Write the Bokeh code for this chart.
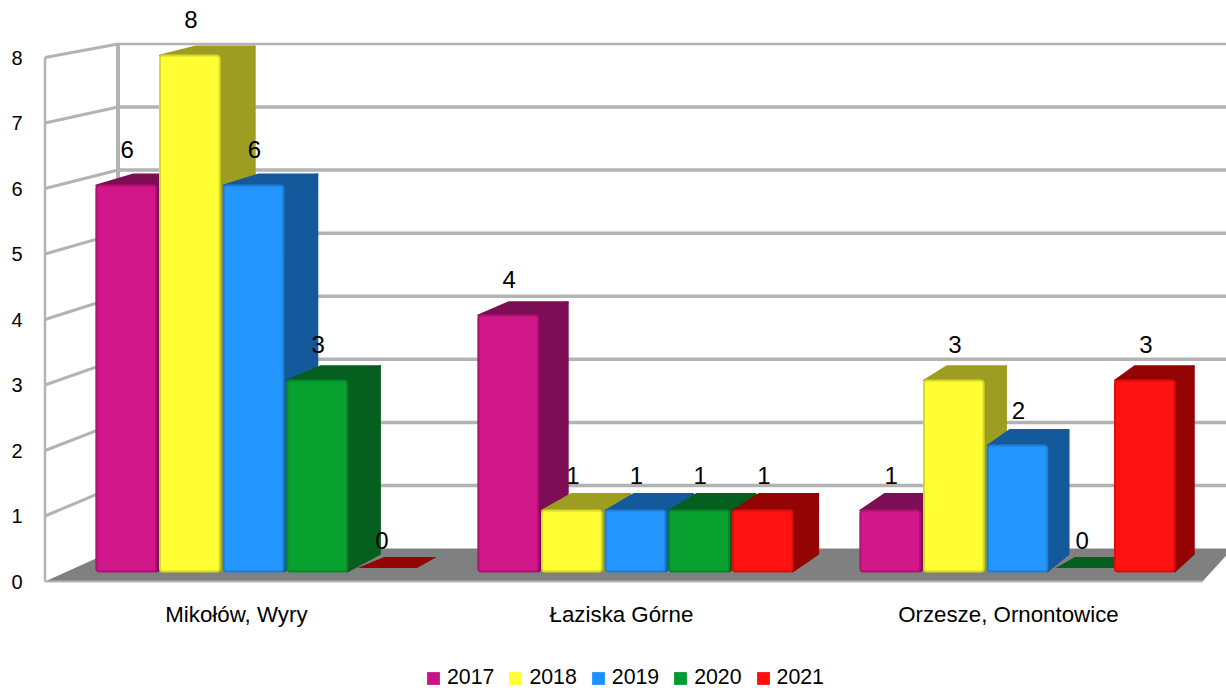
from bokeh.plotting import figure
from bokeh.embed import file_html
from bokeh.resources import INLINE
from bokeh.models import Legend, LegendItem, FixedTicker, ColumnDataSource
from bokeh.core.properties import value

categories = ["Mikołów, Wyry", "Łaziska Górne", "Orzesze, Ornontowice"]
label_positions = [0.45, 1.458, 2.471]
years = ["2017", "2018", "2019", "2020", "2021"]
v2017 = [6, 4, 1]
v2018 = [8, 1, 3]
v2019 = [6, 1, 2]
v2020 = [3, 1, 0]
v2021 = [0, 1, 3]
series = [v2017, v2018, v2019, v2020, v2021]
front_colors = ["#d2178a", "#ffff33", "#2396ff", "#08a130", "#ff1212"]
edge_colors = ["#b01274", "#d8d828", "#1c7fd8", "#06882c", "#d80f0f"]
side_colors = ["#7d0d55", "#9d9d21", "#14599c", "#055f1e", "#940404"]
legend_colors = ["#c71585", "#ffff33", "#1e90ff", "#009933", "#ff0d0d"]
grid_color = "#b3b3b3"
floor_color = "#808080"

W, H = 1226, 688
FRAME_L = 38              # frame's left edge on the page
AX_L, AX_B = 44.5, 581    # page position of the front-left corner
PX_X, PX_Y = 382.0, 65.5  # pixels per category / per value unit
X0 = 64.0                 # page x of category 0
x_start, x_end = (FRAME_L - X0) / PX_X, (W - X0) / PX_X
y_start, y_end = (AX_B - H) / PX_Y, AX_B / PX_Y

p = figure(width=W, height=H, output_backend="svg", toolbar_location=None,
           x_range=(x_start, x_end), y_range=(y_start, y_end),
           min_border_left=FRAME_L, min_border_right=0, min_border_top=0,
           min_border_bottom=0, outline_line_color=None,
           background_fill_color="white", border_fill_color="white",
           margin=0)
p.grid.visible = False
p.xaxis.visible = False

# ---- perspective: front plane of the box to its back wall
WALL_S = 0.963
WALL_VX, WALL_VY = (2018 - X0) / PX_X, (AX_B + 310) / PX_Y
def wall(x, v):
    return WALL_VX + WALL_S * (x - WALL_VX), WALL_VY + WALL_S * (v - WALL_VY)

BAR_K, BAR_Y0, BAR_BASE = 65 / PX_Y, 6 / PX_Y, 10 / PX_Y   # bars stand a little behind the front edge
BAR_S = 0.9833
BAR_VX, BAR_VY = (2316 - X0) / PX_X, (AX_B + 480) / PX_Y
def bar_y(v):
    return BAR_Y0 + BAR_K * v if v > 0 else BAR_BASE
def bar_back(x, y, t=1.0):
    s = 1 - (1 - BAR_S) * t
    return BAR_VX + s * (x - BAR_VX), BAR_VY + s * (y - BAR_VY)

# ---- floor
x_left, x_right = (AX_L - X0) / PX_X, 3.0 - 8 / PX_X
bl, br = wall(x_left, 0), wall(x_right, 0)
p.patch([x_left, x_right, br[0], bl[0]], [0, 0, br[1], bl[1]],
        fill_color=floor_color, line_color=None)
p.line([x_left, x_right], [0, 0], line_color=grid_color, line_width=2)

# ---- walls and grid lines
ticks = list(range(0, 9))
for t in ticks:
    bx, by = wall(x_left, t)
    if t > 0:
        p.line([x_left, bx], [t, by], line_color=grid_color, line_width=3)
        p.line([bx, x_end], [by, by], line_color=grid_color, line_width=3.5 if t < 8 else 2.5)
bx0, by0 = wall(x_left, 0)
bx8, by8 = wall(x_left, 8)
p.line([x_left, x_left], [0, 8], line_color=grid_color, line_width=2.5)
p.line([bx0, bx8], [by0, by8], line_color=grid_color, line_width=4)

# ---- bars
BAR = 1 / 6
for j, vals in enumerate(series):
    lefts = [i + (j + 0.5) * BAR for i in range(3)]
    rights = [l + BAR - 4 / PX_X for l in lefts]
    for l, r, v in zip(lefts, rights, vals):
        y = bar_y(v)
        if v == 0:
            # an empty bar shows only a thin plate on the floor
            a, b = bar_back(l, y, 0.2), bar_back(r, y, 0.2)
            c, d = bar_back(r, y, 0.82), bar_back(l + 0.1 * BAR, y, 0.82)
            p.patch([a[0], b[0], c[0], d[0]], [a[1], b[1], c[1], d[1]],
                    fill_color=side_colors[j], line_color=None)
            continue
        y0 = BAR_BASE
        tb, tc = bar_back(l, y), bar_back(r, y)
        p.patch([l, r, tc[0], tb[0]], [y, y, tc[1], tb[1]], fill_color=side_colors[j],
                line_color=side_colors[j], line_width=2, line_join="round")
        bb = bar_back(r, y0)
        p.patch([r, tc[0], bb[0], r], [y, tc[1], bb[1], y0], fill_color=side_colors[j],
                line_color=side_colors[j], line_width=2, line_join="round")
    src = ColumnDataSource(dict(
        left=[l for l, v in zip(lefts, vals) if v > 0],
        right=[r for r, v in zip(rights, vals) if v > 0],
        top=[bar_y(v) for v in vals if v > 0],
        bottom=[BAR_BASE for v in vals if v > 0]))
    p.quad(left="left", right="right", top="top", bottom="bottom", source=src,
           fill_color=front_colors[j], line_color=edge_colors[j], line_width=2,
           border_radius=3)

# ---- value labels
for j, vals in enumerate(series):
    xs = [i + (j + 0.5) * BAR + BAR / 2 - 1 / PX_X for i in range(3)]
    ys = [v * 0.994 + 0.63 for v in vals]
    p.text(xs, ys, text=[str(v) for v in vals], text_align="center", text_baseline="middle",
           text_font=value("Liberation Sans"), text_font_size="24px", text_color="#000000")

# ---- axes
ya = p.yaxis[0]
ya.ticker = FixedTicker(ticks=ticks)
ya.axis_line_color = None
ya.major_tick_line_color = None
ya.minor_tick_line_color = None
ya.major_label_standoff = 10
ya.major_label_text_font = "Liberation Sans"
ya.major_label_text_font_size = "20px"
ya.major_label_text_color = "#000000"

p.text(label_positions, [-33 / PX_Y] * 3, text=categories, text_align="center",
       text_baseline="middle", text_font=value("Liberation Sans"), text_font_size="22.3px",
       text_color="#000000")

# ---- legend
items = []
for y_name, c in zip(years, legend_colors):
    r = p.quad(left=[x_start], right=[x_start], top=[y_start], bottom=[y_start],
               fill_color=c, line_color=None)
    items.append(LegendItem(label=y_name, renderers=[r]))
leg = Legend(items=items, orientation="horizontal", location=(387, -2),
             background_fill_alpha=0, border_line_color=None,
             label_text_font="Liberation Sans", label_text_font_size="21.3px",
             label_text_color="#000000", glyph_width=16, glyph_height=16,
             label_standoff=6, spacing=13, margin=0, padding=0)
p.add_layout(leg, "center")

open("out.html", "w").write(file_html(p, INLINE))
